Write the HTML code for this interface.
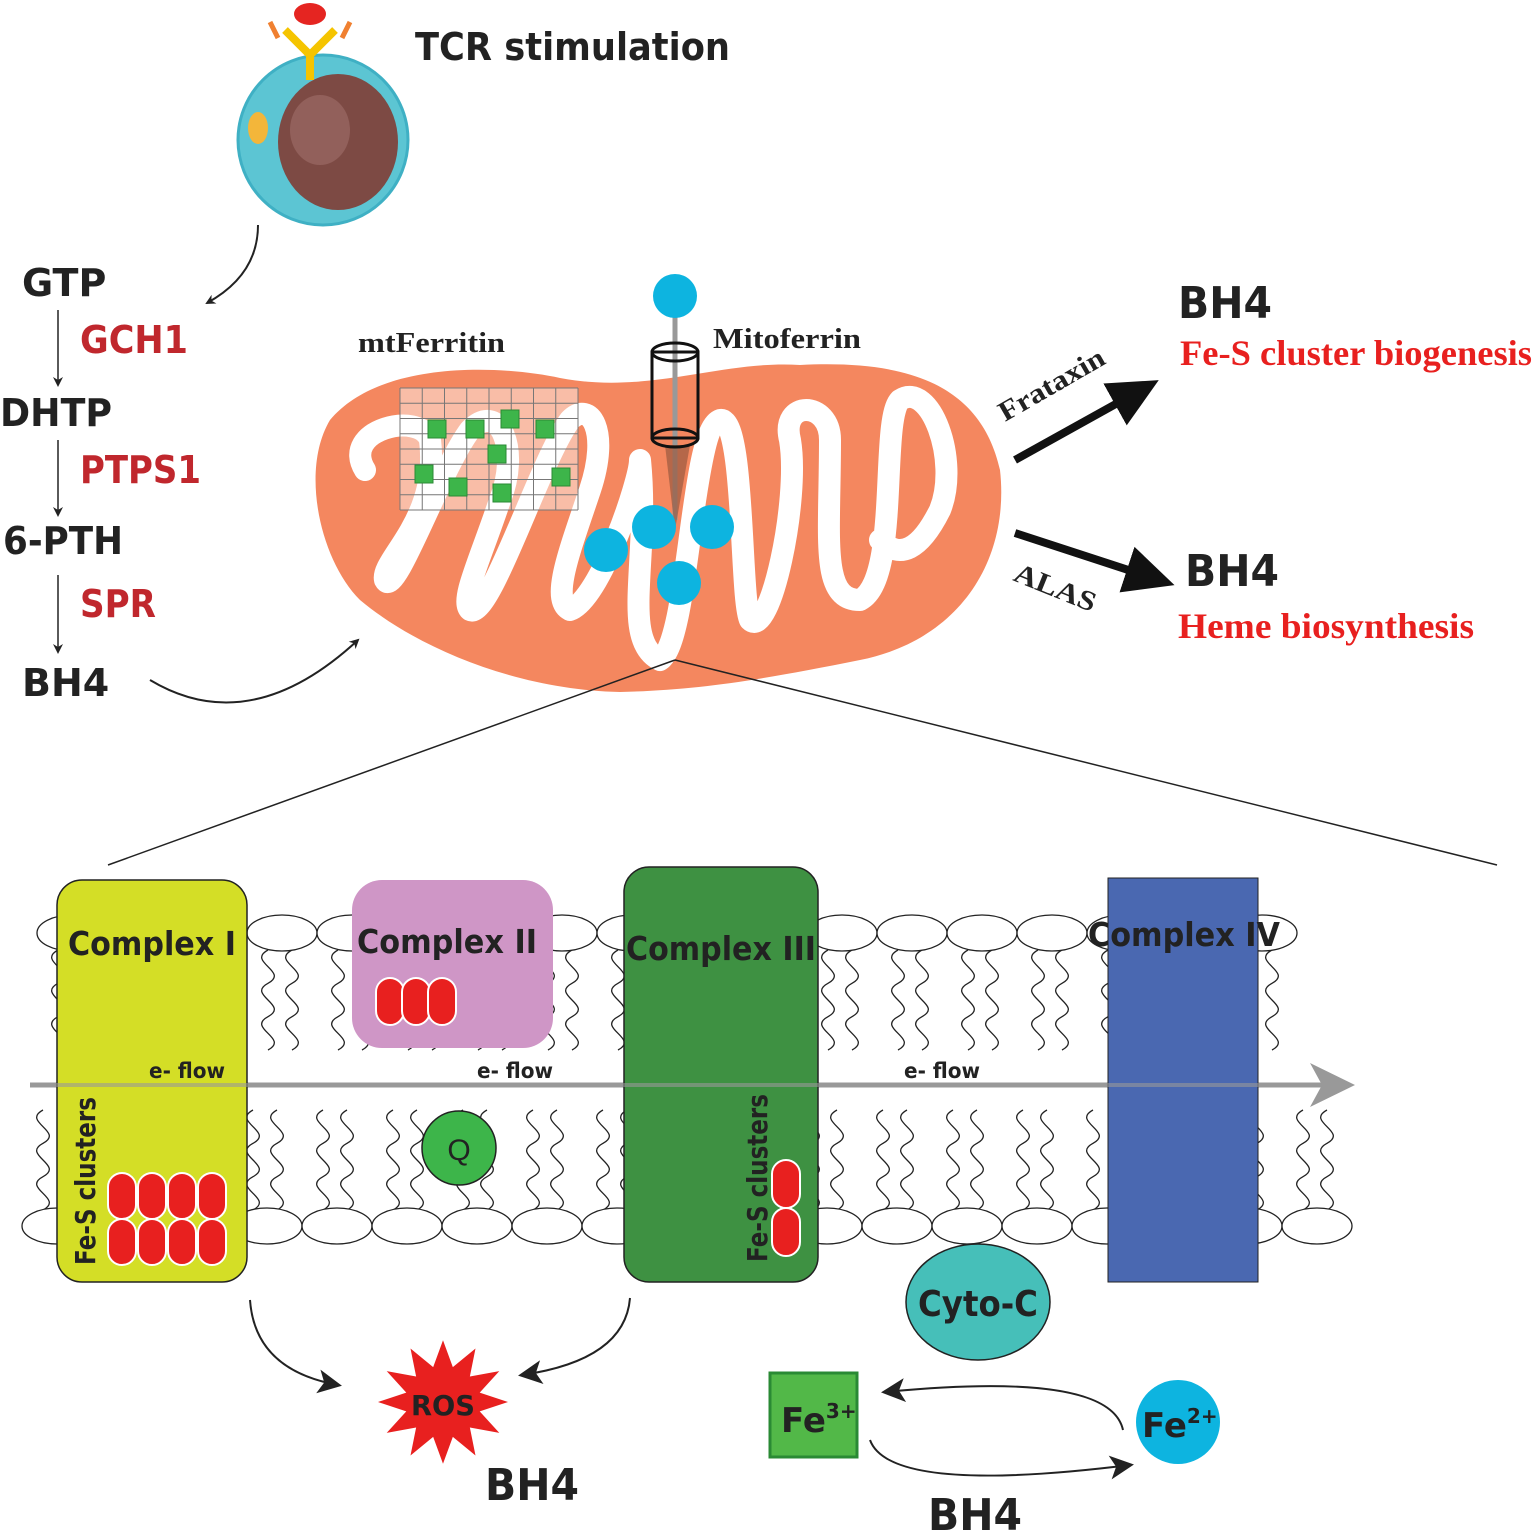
<!DOCTYPE html>
<html><head><meta charset="utf-8"><style>
html,body{margin:0;padding:0;background:#fff}
svg{display:block}
.b{font-family:"DejaVu Sans","Liberation Sans",sans-serif;font-weight:bold}
.s{font-family:"Liberation Serif",serif;font-weight:bold}
</style></head><body>
<svg id="s" width="1535" height="1535" viewBox="0 0 1535 1535" xmlns="http://www.w3.org/2000/svg">
<defs>
<marker id="ah" markerWidth="10" markerHeight="10" refX="8" refY="5" orient="auto" markerUnits="userSpaceOnUse"><path d="M0,0 L10,5 L0,10 L3,5z" fill="#222"/></marker>
<marker id="ah2" markerWidth="24" markerHeight="24" refX="20" refY="12" orient="auto" markerUnits="userSpaceOnUse"><path d="M0,0 L24,12 L0,24 L6,12z" fill="#222"/></marker>
<marker id="ah3" markerWidth="60" markerHeight="60" refX="40" refY="30" orient="auto" markerUnits="userSpaceOnUse"><path d="M0,6 L50,30 L0,54z" fill="#111"/></marker>
</defs>
<!-- cell -->
<circle cx="323" cy="140" r="85" fill="#5cc5d3" stroke="#3fb0c4" stroke-width="3"/>
<ellipse cx="338" cy="142" rx="60" ry="68" fill="#7d4a44"/>
<ellipse cx="320" cy="130" rx="30" ry="35" fill="#a0706a" opacity="0.6"/>
<ellipse cx="258" cy="128" rx="10" ry="16" fill="#f3b63a"/>
<path d="M310,80 L310,55 L285,30 M310,55 L335,30" stroke="#f5c400" stroke-width="8" fill="none"/>
<path d="M278,38 L270,22 M342,38 L350,22" stroke="#f08030" stroke-width="5"/>
<ellipse cx="310" cy="14" rx="16" ry="11" fill="#e52521"/>
<text x="415" y="60" class="b" font-size="38" fill="#222" textLength="315" lengthAdjust="spacingAndGlyphs">TCR stimulation</text>
<!-- pathway -->
<g class="b" font-size="38" fill="#222">
<text x="22" y="296">GTP</text><text x="0" y="426" textLength="112" lengthAdjust="spacingAndGlyphs">DHTP</text><text x="3" y="554" textLength="120" lengthAdjust="spacingAndGlyphs">6-PTH</text><text x="22" y="696">BH4</text>
</g>
<g class="b" font-size="38" fill="#c0272d">
<text x="80" y="353" textLength="108" lengthAdjust="spacingAndGlyphs">GCH1</text><text x="80" y="483" textLength="121" lengthAdjust="spacingAndGlyphs">PTPS1</text><text x="80" y="617" textLength="76" lengthAdjust="spacingAndGlyphs">SPR</text>
</g>
<g stroke="#222" stroke-width="1.5" marker-end="url(#ah)">
<line x1="58" y1="310" x2="58" y2="385"/><line x1="58" y1="440" x2="58" y2="515"/><line x1="58" y1="575" x2="58" y2="652"/>
</g>
<path d="M258,225 Q258,275 207,303" stroke="#222" stroke-width="2" fill="none" marker-end="url(#ah)"/>
<path d="M150,680 Q250,740 358,640" stroke="#222" stroke-width="2" fill="none" marker-end="url(#ah)"/>
<!-- mitochondrion -->
<path d="M330,420 C380,360 500,365 560,378 C650,395 720,360 800,365 C900,360 980,380 1000,470 C1010,560 960,640 860,660 C760,680 700,690 620,692 C520,690 420,650 360,600 C320,560 300,470 330,420z" fill="#f4875f"/>
<path d="M365,470 C340,430 420,410 430,440 C440,520 380,560 385,580 C395,600 440,470 470,430 C500,400 520,450 500,500 C480,560 460,600 470,610 C490,620 540,460 570,420 C590,400 610,430 590,490 C570,550 550,600 570,610 C600,600 640,480 640,460 C650,560 620,640 660,660 C690,640 690,430 720,420 C745,415 740,600 750,620 C770,640 800,500 790,440 C780,400 830,400 830,440 C830,540 820,600 860,600 C900,580 880,420 900,400 C930,380 960,460 940,510 C920,550 900,560 880,540" fill="none" stroke="#fff" stroke-width="22" stroke-linejoin="round" stroke-linecap="round"/>
<!-- ferritin grid -->
<g>
<rect x="400" y="388" width="178" height="122" fill="#fff" opacity="0.45"/>
<g stroke="#777" stroke-width="1">
<path id="grid" d=""/>
</g>
<g fill="#3db54a" stroke="#2a8a34">
<rect x="428" y="420" width="18" height="18"/><rect x="466" y="420" width="18" height="18"/><rect x="501" y="410" width="18" height="18"/><rect x="536" y="420" width="18" height="18"/>
<rect x="488" y="445" width="18" height="18"/><rect x="415" y="465" width="18" height="18"/><rect x="449" y="478" width="18" height="18"/><rect x="493" y="484" width="18" height="18"/><rect x="552" y="468" width="18" height="18"/>
</g>
</g>
<!-- mitoferrin -->
<line x1="675" y1="300" x2="675" y2="520" stroke="#999" stroke-width="5"/>
<path d="M665,445 L690,445 L675,530z" fill="#9a5a40" opacity="0.7"/>
<rect x="652" y="352" width="46" height="86" fill="none" stroke="#111" stroke-width="3"/>
<ellipse cx="675" cy="352" rx="23" ry="9" fill="none" stroke="#111" stroke-width="3"/>
<ellipse cx="675" cy="438" rx="23" ry="9" fill="none" stroke="#111" stroke-width="3"/>
<g fill="#0db4e0"><circle cx="675" cy="296" r="22"/><circle cx="606" cy="550" r="22"/><circle cx="654" cy="527" r="22"/><circle cx="712" cy="527" r="22"/><circle cx="679" cy="583" r="22"/></g>
<text x="358" y="352" class="s" font-size="28" fill="#222" textLength="147" lengthAdjust="spacingAndGlyphs">mtFerritin</text>
<text x="713" y="348" class="s" font-size="28" fill="#222" textLength="148" lengthAdjust="spacingAndGlyphs">Mitoferrin</text>
<!-- outputs -->
<line x1="1015" y1="460" x2="1150" y2="385" stroke="#111" stroke-width="8" marker-end="url(#ah3)"/>
<line x1="1015" y1="533" x2="1165" y2="582" stroke="#111" stroke-width="8" marker-end="url(#ah3)"/>
<text class="s" font-size="28" fill="#222" transform="translate(1005,422) rotate(-30)" textLength="118" lengthAdjust="spacingAndGlyphs">Frataxin</text>
<text class="s" font-size="28" fill="#222" transform="translate(1012,580) rotate(22)" textLength="86" lengthAdjust="spacingAndGlyphs">ALAS</text>
<text x="1178" y="318" class="b" font-size="44" fill="#222" textLength="94" lengthAdjust="spacingAndGlyphs">BH4</text>
<text x="1180" y="365" class="s" font-size="36" fill="#e8201f" font-weight="normal" textLength="352" lengthAdjust="spacingAndGlyphs">Fe-S cluster biogenesis</text>
<text x="1185" y="586" class="b" font-size="44" fill="#222" textLength="94" lengthAdjust="spacingAndGlyphs">BH4</text>
<text x="1178" y="638" class="s" font-size="36" fill="#e8201f" font-weight="normal" textLength="296" lengthAdjust="spacingAndGlyphs">Heme biosynthesis</text>
<line x1="675" y1="660" x2="108" y2="865" stroke="#222" stroke-width="1.5"/>
<line x1="675" y1="660" x2="1497" y2="865" stroke="#222" stroke-width="1.5"/>
<!-- membrane -->
<g id="mem" fill="#fff" stroke="#222" stroke-width="1.3"></g>
<line x1="30" y1="1085" x2="1330" y2="1085" stroke="#999" stroke-width="5"/>
<path d="M1310,1063 L1355,1085 L1310,1107 L1322,1085z" fill="#999"/>
<!-- complexes -->
<rect x="57" y="880" width="190" height="402" rx="25" fill="#d4de26" stroke="#222" stroke-width="1.5"/>
<rect x="352" y="880" width="201" height="168" rx="30" fill="#cf96c6"/>
<rect x="624" y="867" width="194" height="415" rx="25" fill="#3e9142" stroke="#222" stroke-width="1.5"/>
<rect x="1108" y="878" width="150" height="404" fill="#4a68b1" stroke="#222" stroke-width="1"/>
<line x1="30" y1="1085" x2="1310" y2="1085" stroke="#999" stroke-width="4" opacity="0.6"/>
<g class="b" font-size="33" fill="#222">
<text x="68" y="955" textLength="168" lengthAdjust="spacingAndGlyphs">Complex I</text><text x="357" y="953" textLength="180" lengthAdjust="spacingAndGlyphs">Complex II</text><text x="626" y="960" textLength="190" lengthAdjust="spacingAndGlyphs">Complex III</text><text x="1088" y="946" textLength="192" lengthAdjust="spacingAndGlyphs">Complex IV</text>
</g>
<g class="b" font-size="21" fill="#222"><text x="149" y="1078" textLength="76" lengthAdjust="spacingAndGlyphs">e- flow</text><text x="477" y="1078" textLength="76" lengthAdjust="spacingAndGlyphs">e- flow</text><text x="904" y="1078" textLength="76" lengthAdjust="spacingAndGlyphs">e- flow</text></g>
<text class="b" font-size="28" fill="#222" transform="translate(95,1265) rotate(-90)" textLength="168" lengthAdjust="spacingAndGlyphs">Fe-S clusters</text>
<text class="b" font-size="28" fill="#222" transform="translate(767,1262) rotate(-90)" textLength="168" lengthAdjust="spacingAndGlyphs">Fe-S clusters</text>
<g fill="#e8201f" stroke="#fff" stroke-width="2">
<rect x="108" y="1173" width="28" height="46" rx="14"/><rect x="138" y="1173" width="28" height="46" rx="14"/><rect x="168" y="1173" width="28" height="46" rx="14"/><rect x="198" y="1173" width="28" height="46" rx="14"/>
<rect x="108" y="1219" width="28" height="46" rx="14"/><rect x="138" y="1219" width="28" height="46" rx="14"/><rect x="168" y="1219" width="28" height="46" rx="14"/><rect x="198" y="1219" width="28" height="46" rx="14"/>
<rect x="376" y="978" width="28" height="47" rx="14"/><rect x="402" y="978" width="28" height="47" rx="14"/><rect x="428" y="978" width="28" height="47" rx="14"/>
<rect x="772" y="1160" width="28" height="48" rx="14"/><rect x="772" y="1208" width="28" height="48" rx="14"/>
</g>
<circle cx="459" cy="1148" r="37" fill="#3db54a" stroke="#222" stroke-width="1.5"/>
<text x="459" y="1160" font-family="Liberation Sans,sans-serif" font-size="30" text-anchor="middle" fill="#222">Q</text>
<ellipse cx="978" cy="1302" rx="72" ry="58" fill="#46bfb9" stroke="#222" stroke-width="1.5"/>
<text x="978" y="1316" class="b" font-size="36" text-anchor="middle" fill="#222" textLength="120" lengthAdjust="spacingAndGlyphs">Cyto-C</text>
<!-- ROS -->
<polygon id="star" fill="#e8201f"/>
<text x="443" y="1415" class="b" font-size="28" text-anchor="middle" fill="#222" textLength="64" lengthAdjust="spacingAndGlyphs">ROS</text>
<text x="485" y="1500" class="b" font-size="44" fill="#222" textLength="94" lengthAdjust="spacingAndGlyphs">BH4</text>
<path d="M250,1300 Q255,1370 338,1385" stroke="#222" stroke-width="2" fill="none" marker-end="url(#ah2)"/>
<path d="M630,1298 Q625,1360 522,1375" stroke="#222" stroke-width="2" fill="none" marker-end="url(#ah2)"/>
<!-- Fe -->
<rect x="770" y="1373" width="87" height="84" fill="#52b848" stroke="#2a8a34" stroke-width="3"/>
<text x="781" y="1432" class="b" font-size="34" fill="#222">Fe<tspan font-size="20" dy="-14">3+</tspan></text>
<circle cx="1178" cy="1422" r="42" fill="#0db4e0"/>
<text x="1142" y="1437" class="b" font-size="34" fill="#222">Fe<tspan font-size="20" dy="-14">2+</tspan></text>
<path d="M1123,1430 Q1110,1370 885,1392" stroke="#222" stroke-width="2" fill="none" marker-end="url(#ah2)"/>
<path d="M870,1440 Q890,1495 1130,1465" stroke="#222" stroke-width="2" fill="none" marker-end="url(#ah2)"/>
<text x="928" y="1530" class="b" font-size="44" fill="#222" textLength="94" lengthAdjust="spacingAndGlyphs">BH4</text>
</svg>
<script>
var NS="http://www.w3.org/2000/svg",m=document.getElementById("mem");
function el(t,a){var e=document.createElementNS(NS,t);for(var k in a)e.setAttribute(k,a[k]);m.appendChild(e);}
function wave(x,y1,y2){var d="M"+x+","+y1,n=3,h=(y2-y1)/n;for(var i=0;i<n;i++){var y=y1+i*h;d+=" C"+(x-22)+","+(y+h*0.35)+" "+(x+22)+","+(y+h*0.65)+" "+x+","+(y+h);}el("path",{d:d,fill:"none"});}
for(var x=72;x<=1300;x+=70){wave(x-14,950,1050);wave(x+10,950,1050);el("ellipse",{cx:x,cy:933,rx:35,ry:18});}
for(var x=57;x<=1335;x+=70){wave(x-14,1110,1210);wave(x+10,1110,1210);el("ellipse",{cx:x,cy:1226,rx:35,ry:18});}
var g="";for(var i=0;i<=8;i++){var x=400+i*22.25;g+="M"+x+",388 L"+x+",510 ";}for(var j=0;j<=8;j++){var y=388+j*15.25;g+="M400,"+y+" L578,"+y+" ";}
document.getElementById("grid").setAttribute("d",g);
var p="",cx=443,cy=1402;for(var i=0;i<24;i++){var r=i%2?38:65,a=i*Math.PI/12;p+=(cx+r*Math.cos(a))+","+(cy+r*Math.sin(a)*0.95)+" ";}
document.getElementById("star").setAttribute("points",p);
</script>
</body></html>
